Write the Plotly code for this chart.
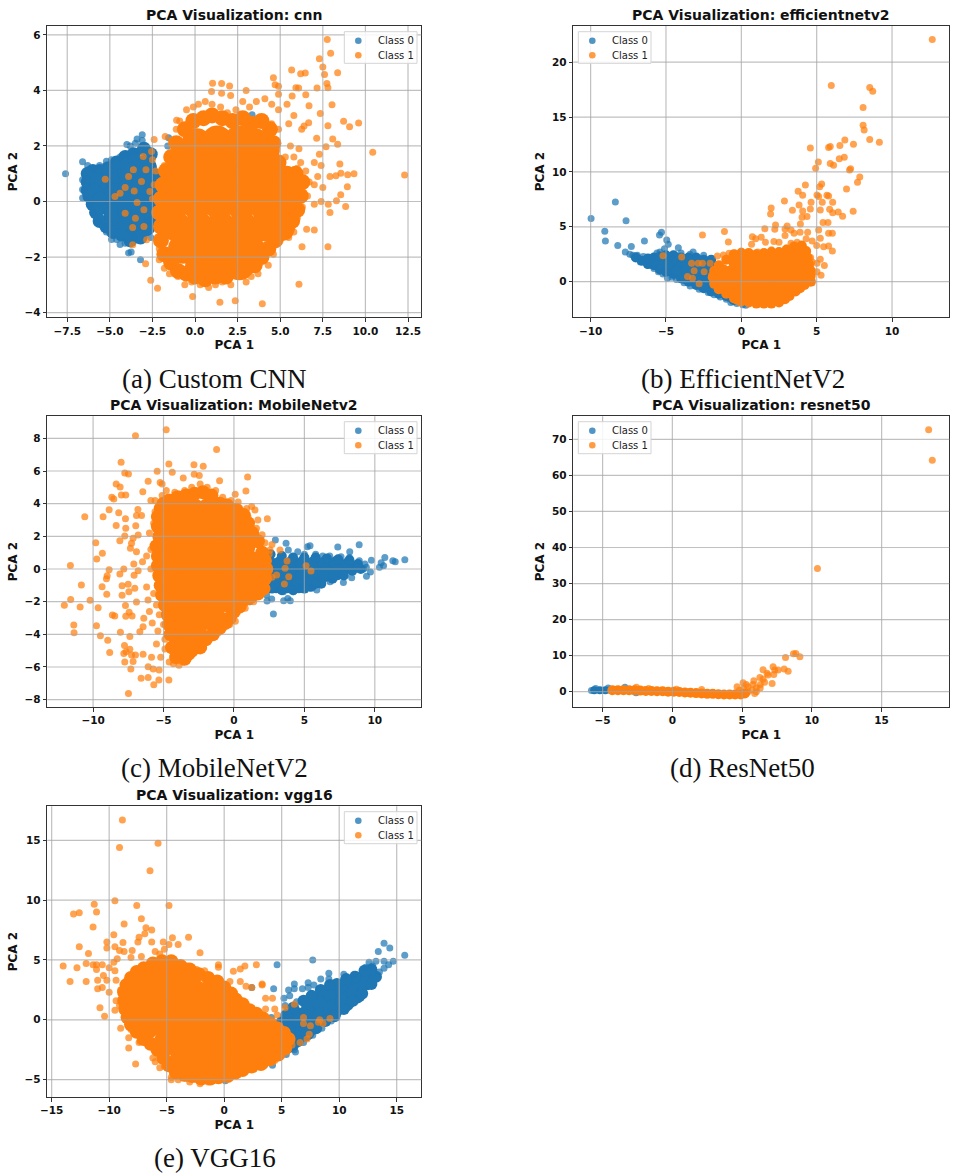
import plotly.graph_objects as go

# Values. *_CORE and *_MID lists hold estimated centres inside the saturated
# cloud, drawn opaque and larger; the other lists hold individually readable points.
TITLES = ["PCA Visualization: cnn", "PCA Visualization: efficientnetv2", "PCA Visualization: MobileNetv2",
          "PCA Visualization: resnet50", "PCA Visualization: vgg16"]
CAPTIONS = ["(a) Custom CNN", "(b) EfficientNetV2", "(c) MobileNetV2", "(d) ResNet50", "(e) VGG16"]
X_TICKS = [[-7.5, -5, -2.5, 0, 2.5, 5, 7.5, 10, 12.5], [-10, -5, 0, 5, 10], [-10, -5, 0, 5, 10],
           [-5, 0, 5, 10, 15], [-15, -10, -5, 0, 5, 10, 15]]
Y_TICKS = [[-4, -2, 0, 2, 4, 6], [0, 5, 10, 15, 20], [-8, -6, -4, -2, 0, 2, 4, 6, 8],
           [0, 10, 20, 30, 40, 50, 60, 70], [-5, 0, 5, 10, 15]]
X_RANGES = [(-8.67, 13.28), (-11.15, 13.8), (-13.25, 13.3), (-7.1, 19.85), (-15.38, 17.14)]
Y_RANGES = [(-4.17, 6.32), (-3.25, 23.3), (-8.45, 9.35), (-4.25, 76.4), (-6.45, 17.84)]
LEGEND_LABELS = ["Class 0", "Class 1"]

CNN_C0_CORE = [(-5.4,0.6),(-5.4,0.0),(-4.6,0.9),(-4.6,0.2),(-4.6,-0.5),(-3.8,1.1),(-3.8,0.4),(-3.8,-0.3),(-3.8,-0.9),
    (-3.0,1.2),(-3.0,0.5),(-3.0,-0.2),(-3.0,-0.8),(-2.2,0.7),(-2.2,0.0),(-2.2,-0.6)]
CNN_C0_MID = [(-6.3,1),(-6.3,0.7),(-6.3,0.4),(-6.2,0.2),(-6,-0.1),(-5.8,-0.4),(-5.6,-0.7),(-5.2,-0.9),(-4.8,-1.1),(-4.3,-1.2),(-3.8,-1.4),(-3.2,-1.3),
    (-6,1.1),(-5.6,1.1),(-5.1,1.2),(-4.6,1.4),(-4.1,1.6),(-3.6,1.7),(-3,1.9),(-2.6,1.7),(-5.8,0.8),(-5.9,0.4),(-5.6,0.1)]
CNN_C0 = [(-7.6,1),(-6.6,1.43),(-6.6,0.78),(-6.6,0.43),(-6.6,0.13),(-6.3,1.3),(-6,1.2),(-5.6,1.3),(-5.2,1.45),(-4.9,1.5),
    (-4.4,1.6),(-4,2.05),(-3.8,2),(-3.5,2.1),(-3.4,2.25),(-3.1,2.4),(-3.1,2.2),(-4,1.7),(-3.5,1.8),(-6.2,-0.1),(-6,-0.4),
    (-5.7,-0.7),(-5.3,-0.9),(-5.2,-1.1),(-4.9,-1.37),(-4.6,-1.37),(-4.4,-1.55),(-4.1,-1.5),(-3.9,-1.85),(-3.75,-1.82),
    (-3.2,-2.1),(-3.6,-1.3),(-2.6,-1.3),(-2.7,-0.7),(3.35,3.12),(-1.55,2.3),(-1.6,2)]
CNN_C1_CORE = [(0.1,2.1),(1.3,2.2),(2.6,2.2),(3.5,2.1),(-0.6,1.5),(0.7,1.5),(2.0,1.5),(3.3,1.5),(4.0,1.4),
    (-1.0,0.7),(0.3,0.7),(1.6,0.7),(2.9,0.7),(4.2,0.7),(5.4,0.6),(-1.2,-0.1),(0.1,-0.1),(1.4,-0.1),(2.7,-0.1),(4.0,-0.1),(5.3,-0.1),
    (-1.1,-0.9),(0.2,-0.9),(1.5,-0.9),(2.8,-0.9),(4.1,-0.9),(5.0,-0.9),(-0.7,-1.7),(0.6,-1.7),(1.9,-1.7),(3.2,-1.7),(0.3,-2.3),(1.5,-2.3),(2.6,-2.3)]
CNN_C1_MID = [(-0.6,2.6),(-0.1,2.9),(0.5,3),(1,3.1),(1.6,3),(2.2,2.9),(2.8,3),(3.3,2.8),(3.9,2.9),(4.4,2.6),(4.6,2.1),(-1.1,2.1),(-1.4,1.6),(-1.7,1.1),(-1.9,0.6),
    (-2,0.1),(-2.1,-0.4),(-2,-0.9),(-2,-1.4),(-1.8,-1.9),(-1.4,-2.2),(-1,-2.5),(-0.5,-2.6),(0,-2.7),(0.6,-2.8),(1.2,-2.7),(1.8,-2.7),(2.4,-2.5),(3,-2.4),(3.5,-2.3),
    (3.9,-2),(4.3,-1.7),(4.7,-1.4),(5.3,-1.1),(5.7,-0.7),(6,-0.3),(6.2,0.2),(6.3,0.7),(5.9,1),(5.4,1),(4.9,1.4),(4.5,1.8),(4.8,0.9),(5.8,0.2),(4.9,-1.1)]
CNN_C1 = [(7.76,5.83),(7.96,5.34),(7.3,5.14),(7.5,4.84),(7.6,4.57),(8.37,4.64),(5.67,4.74),(6.2,4.6),(6.47,4.63),(4.6,4.46),(4.7,4.2),(4.9,4.15),
    (5.92,4.1),(6.08,4.09),(7.16,4.09),(7.74,4.25),(7.8,4.1),(6.5,3.84),(4.9,3.86),(8.04,3.48),(6.69,3.45),(7.35,3.17),(8.72,2.89),(9.07,2.69),
    (9.6,2.83),(7.8,2.73),(6.67,2.84),(6.4,2.72),(6.26,2.6),(7.14,2.28),(8.08,2.25),(8.37,2.06),(7.69,1.97),(10.43,1.77),(12.3,0.95),(8.5,1.35),
    (9.33,1),(8.96,0.96),(8.56,1.02),(7.92,0.9),(8.27,0.93),(8.94,0.53),(8.55,0.24),(8.3,0.03),(8.84,-0.18),(7.82,-0.1),(7.92,-0.4),(7.8,-1.63),
    (7,-1.03),(6.55,-1),(6.28,-1.63),(6.1,-2.98),(3.95,-3.68),(2.36,-3.57),(1.46,-3.63),(-0.14,-3.42),(-2.2,-3.12),(-2.6,-2.84),(-2.9,-2.24),
    (1.03,4.26),(1.56,4.25),(2.03,4.16),(3,4),(0.97,3.96),(2.09,3.82),(1.56,3.9),(-1.08,2.93),(-1.75,2.34),(-2.4,2.23),
    (-5.27,0.8),(-4.1,0.5),(-4.7,0.18),(-4.1,-0.42),(-3.66,-0.94),(-3.66,-1.56),(-2.88,1.14),(-3.62,1.14),(-3.9,0.9),(-3.57,0.38),(-3.4,-0.04),
    (-3,-0.3),(-3,-0.9),(-3.5,-0.6),(-3.04,1.62),(-2.55,1.8),(-2.65,0.36),(-3.14,0.72),(-4.4,0.3),(-2.84,-1.38),(-2.5,1.5),(-2.3,1.1),(-2.4,0.6),(-2.5,0.1),
    (-2.3,-0.3),(-2.2,-0.8),(-2.2,-1.3),(-2.1,-1.7),(-2.1,-2.1),(-1.8,-2.4),(-1.5,-2.6),(-1.0,-2.7),(-0.6,-3.0),(-0.2,-2.9),(0.3,-3.0),(0.8,-3.1),(1.2,-3.0),
    (1.6,-2.9),(2.1,-3.0),(2.6,-2.7),(3.0,-2.9),(3.3,-2.7),(3.7,-2.6),(4.3,-2.3),(4.1,-2.0),(4.6,-1.9),(4.5,-1.6),(5.0,-1.4),(5.5,-1.3),(5.8,-1.1),(6.0,-0.6),(6.3,-0.2),
    (6.6,0.2),(6.7,0.7),(6.5,1.1),(6.0,1.2),(5.6,1.1),(5.0,1.2),(5.3,1.6),(5.8,1.6),(6.2,1.4),(4.8,1.9),(5.6,2.0),(6.1,1.9),(4.4,2.3),(4.9,2.6),(4.5,2.8),(5.5,2.8),(5.8,3.1),
    (4.9,3.3),(5.4,3.5),(5.7,3.8),(4.5,3.5),(4.1,3.7),(3.6,3.6),(3.2,3.4),(2.8,3.6),(2.4,3.3),(1.9,3.2),(1.5,3.4),(1.0,3.5),(0.6,3.6),(0.2,3.5),(-0.1,3.4),
    (-0.5,3.3),(-0.9,2.9),(-1.1,2.6),(-0.7,2.5),(-1.4,2.2),(-1.2,1.8),(-1.6,1.6),(-1.8,1.3),(-1.9,0.7),(-2.0,0.3),(-2.0,-0.2),(7.0,1.4),(7.3,1.7),(7.4,1.3),(7.2,0.9),(7.5,0.5),(7.0,0.6),(7.4,0.0),(7.0,-0.1)]

EFF_C0_CORE = [(-5.3,1.9),(-4.5,1.6),(-3.7,1.5),(-3.7,0.6),(-2.9,1.6),(-2.9,0.4),(-2.1,1.2),(-2.1,0.1),(-2.5,-0.1),(-1.5,-0.5),(-0.8,-1.0)]
EFF_C0_MID = [(-7,2.2),(-6.6,1.9),(-6.2,1.6),(-6.2,2.1),(-5.8,1.5),(-5.8,2.2),(-5.4,1.1),(-5.4,2.3),(-5,0.9),(-5,2.4),(-4.5,0.7),(-4.5,2.4),(-4,0.3),(-4,2.2),(-3.5,0),(-3.5,2.2),
    (-3,-0.3),(-3,2.2),(-2.5,-0.6),(-2.5,2),(-2,-0.9),(-2,2),(-1.5,-1.1),(-1,-1.3),(-0.5,-1.7),(-4.9,1.5),(-4.3,1),(-3.3,1),(-2.3,0.7)]
EFF_C0 = [(-9.97,5.75),(-9.06,4.6),(-9.02,3.7),(-8.36,7.25),(-8.2,3.3),(-7.65,5.55),(-7.7,2.7),(-7.4,2.5),(-7.3,3.2),(-7.2,2.4),(-7,2.1),(-6.9,2.4),(-6.7,1.8),
    (-6.5,2.3),(-6.43,3.7),(-6.2,1.5),(-6,2.2),(-5.8,1.2),(-5.6,2.6),(-5.5,0.9),(-5.43,4.25),(-5.3,4.5),(-5.2,0.7),(-5.1,3),(-4.95,3.8),(-4.85,3.4),(-4.9,0.3),(-4.6,0.4),
    (-4.18,3.1),(-4.3,0.2),(-4,2.6),(-3.8,-0.1),(-3.4,2.5),(-3.2,2.7),(-3.4,-0.4),(-3,2.2),(-2.8,-0.7),(-2.5,2.4),(-2.2,-1),(-1.8,-1.2),(-1.4,-1.4),(-1,-1.6),(-0.7,-1.9),
    (-0.3,-2),(0.1,-2.1),(0.3,-2.15),(-5.4,2.7),(-5.0,2.5),(-4.5,2.5)]
EFF_C1_CORE = [(-0.2,-1.3),(0.6,-1.3),(1.4,-1.3),(2.2,-1.3),(2.8,-1.1),(-1.2,-0.3),(-0.4,-0.3),(0.4,-0.3),(1.2,-0.3),(2.0,-0.3),(2.8,-0.3),(3.6,-0.2),
    (-1.3,0.8),(-0.5,0.8),(0.3,0.8),(1.1,0.8),(1.9,0.8),(2.7,0.8),(3.5,0.8),(4.0,0.8),(-0.3,1.9),(0.5,1.9),(1.3,1.9),(2.1,1.9),(2.9,1.9),(3.7,1.9),(3.5,2.5),(3.9,2.7)]
EFF_C1_MID = [(-1.5,1.5),(-1.0,2),(-0.5,2.5),(0,2.6),(0.5,2.6),(1,2.5),(1.5,2.6),(2,2.7),(2.5,2.7),(3,2.9),(3.5,3.2),(4,3.3),(4.3,2.8),(4.4,2.2),(4.5,1.6),(4.6,1),(4.6,0.5),(4.6,0),
    (4.2,-0.3),(3.9,-0.6),(3.6,-0.9),(3.2,-1.3),(2.9,-1.6),(2.5,-1.9),(2,-2),(1.5,-2),(1,-2),(0.5,-1.9),(0,-1.8),(-0.5,-1.5),(-1,-1.1),(-1.5,-0.7),(-1.8,-0.2),(-1.9,0.4),(-1.8,1),(3.7,2.6),(3.2,2.4)]
EFF_C1 = [(12.67,22.07),(5.97,17.87),(8.52,17.69),(8.72,17.36),(8.08,15.87),(8.08,14.26),(8.15,13.83),(8.52,12.95),(9.16,12.7),(6.87,12.92),(7.44,12.52),(6.54,12.4),
    (5.79,12.22),(5.9,12.31),(4.58,12.19),(6.83,11.34),(6.5,11.19),(5.11,10.91),(5.9,10.76),(6.12,10.61),(4.93,10.33),(7.25,10.3),(7.18,10.18),(7.86,9.54),(7.71,9.06),
    (6.98,8.45),(4.25,8.81),(5.33,8.9),(5.2,8.66),(3.77,8.24),(4.07,7.87),(5.02,7.9),(5.68,7.87),(5.79,7.81),(5.13,7.75),(2.86,7.36),(5.37,7.23),(6.06,7.23),(3.83,6.99),
    (4.63,7.23),(1.98,6.72),(1.94,6.17),(7.42,6.41),(5.86,6.6),(6.43,6.35),(6.72,5.96),(6.06,6.29),(5.24,6.53),(4.58,6.63),(3.39,6.5),(4.07,6.44),(4.03,5.87),(4.36,5.93),
    (2.27,5.17),(2.22,4.77),(1.56,4.83),(3.04,5.08),(3.92,5.26),(5.75,5.38),(5.42,5.38),(5.79,4.41),(6.04,4.41),(5.13,4.71),(0.73,4.1),(1.32,4.04),(0.95,3.92),(0.68,3.4),
    (1.6,3.59),(2.16,3.65),(-1.12,4.56),(-0.86,3.62),(-2.58,4.26),(6.04,2.8),(5.79,3.25),(5.24,3.95),(5.46,3.19),(5.24,2.04),(5.02,1.67),(5.51,1.46),(5.29,0.58),(5.02,0.91),(4.69,1.82),
    (-5.2,2.37),(-3.96,2.25),(-3.3,1.67),(-2.86,1.67),(-2.58,1.67),(-3.13,1),(-3.57,0.46),(-3.24,0.3),(-2.47,0.91),(-2.8,-0.2),(-1.98,0.6),(-2.07,1.67),(-1.59,2.34),(-1.19,2.43),(-0.81,2.58),
    (-0.4,2.6),(0,2.8),(0.4,2.7),(0.7,2.4),(1.1,2.7),(1.5,2.6),(2,2.9),(2.5,2.8),(3,3.1),(3.3,3.5),(3.7,3.6),(4.1,3.3),(4.3,3.9),(3.5,4.4),(3.9,4.5),(4.4,4.5),(4.7,3.7),(5.0,3.3),
    (4.4,2.7),(4.6,2.2),(4.6,1.3),(4.7,0.7),(4.7,0.1),(4.7,-0.1),(2.5,3.6),(2.9,4.2),(3.3,4.7),(2.9,4.8)]

MOB_C0_CORE = [(2.5,0.3),(3.3,0.3),(4.1,0.3),(4.9,0.3),(5.7,0.3),(6.5,0.3),(7.3,0.3),(8.1,0.2),(2.5,-0.4),(3.3,-0.4),(4.1,-0.4),(4.9,-0.4),(5.7,-0.4),(6.5,-0.3),(7.3,-0.2),
    (3.0,-1.0),(3.8,-1.0),(4.6,-1.0),(5.4,-0.9)]
MOB_C0_MID = [(2.6,0.9),(3.4,0.8),(4.2,0.7),(5,0.7),(5.8,0.7),(6.6,0.65),(7.4,0.6),(8.2,0.55),(8.8,0.3),(9,0),(8.4,-0.1),(7.8,-0.4),(7,-0.6),(6.2,-0.9),(5.8,-0.9),(5,-1.2),(4.2,-1.3),(3.4,-1.3),(2.7,-1.2),(8.8,0.1)]
MOB_C0 = [(12.13,0.57),(11.45,0.45),(11.28,0.51),(10.62,0.2),(10.33,0.1),(10.71,0.71),(10.45,0.39),(9.76,0.53),(9.69,-0.18),(9.41,-0.45),(8.89,1.49),(8.22,1.06),(7.37,1.35),
    (5.4,1.43),(5.21,1.37),(4.53,1.06),(3.7,1.57),(2.94,1.78),(3.86,1.16),(2.8,-2.76),(2.32,-1.59),(2.68,-1.84),(2.35,-1.96),(3.53,-1.94),(3.82,-1.8),(4,-1.94),(1.14,-2),
    (5.88,-1.29),(5.52,-1.18),(7.77,-0.82),(6.82,-0.78),(8.36,-0.53),(4.81,-1.08),(4.22,-1.39),(3.51,-1.39),(5,0.9),(5.8,0.9),(6.3,0.8),(6.8,0.8),(7.6,0.75),(8.2,0.7),(8.9,0.5),(9.3,0.3),
    (9.2,0),(9.4,0.1)]
MOB_C1_CORE = [(-4.3,3.6),(-3.0,3.6),(-1.7,3.6),(-0.5,3.4),(-4.5,2.5),(-3.2,2.5),(-1.9,2.5),(-0.6,2.5),(0.3,2.4),(-4.5,1.4),(-3.2,1.4),(-1.9,1.4),(-0.6,1.4),(0.6,1.4),
    (-4.4,0.3),(-3.1,0.3),(-1.8,0.3),(-0.5,0.3),(0.8,0.3),(1.2,0.3),(-4.4,-0.8),(-3.1,-0.8),(-1.8,-0.8),(-0.5,-0.8),(0.8,-0.8),(1.3,-0.7),(-3.9,-1.9),(-2.6,-1.9),(-1.3,-1.9),(-0.3,-1.9),
    (-3.6,-3.0),(-2.4,-3.0),(-1.5,-3.0),(-3.7,-4.0),(-2.8,-4.0),(-3.5,-4.9)]
MOB_C1_MID = [(-5.0,4),(-4.6,4.2),(-4,4.4),(-3.4,4.5),(-2.8,4.6),(-2.2,4.7),(-1.6,4.5),(-1,4),(-0.5,3.9),(0.2,3.6),(0.7,3.3),(1,2.8),(1.3,2.2),(1.7,1.7),(2,1),(2.2,0.5),(2.3,0),(2.2,-0.6),(2.1,-1.2),
    (1.7,-1.5),(1.2,-1.7),(0.7,-1.9),(0.4,-2.3),(0,-2.6),(-0.3,-3),(-0.6,-3.3),(-1,-3.6),(-1.5,-4),(-2,-4.3),(-2.4,-4.8),(-3,-5),(-3.5,-5.5),(-4.1,-5.4),(-4.4,-4.8),(-4.5,-4),(-4.6,-3.4),(-4.7,-2.8),
    (-4.9,-2.2),(-5.1,-1.6),(-5.2,-1),(-5.3,-0.4),(-5.4,0.2),(-5.4,0.8),(-5.5,1.4),(-5.3,2),(-5.4,2.6),(-5.4,3.2),(-5.2,3.7)]
MOB_C1 = [(-4.81,8.53),(-6.99,8.16),(-1.23,7.31),(-8.01,6.53),(-4.62,6.43),(-2.84,6.39),(-2.18,6.29),(-5.45,5.98),(-4.38,5.92),(-7.75,5.88),(-7.49,5.82),(0.97,5.63),(-3.6,5.57),(-2.82,5.8),
    (-2.46,5.73),(-6.09,5.37),(-1.02,5.41),(-8.36,5.2),(-8.08,5.02),(-5.24,5.29),(-6.47,4.73),(0.85,4.78),(-8.67,4.39),(-8.53,4.29),(-7.99,4.53),(-7.68,4.53),(0.09,4.57),(-10.59,3.2),(-9.29,3.2),
    (-8.86,3.63),(-8.18,3.45),(-7.7,3.08),(-8.36,2.67),(-7.68,2.49),(-6.82,3.65),(-6.92,3.27),(-6.56,3.27),(-6.97,2.65),(2.37,3.08),(1.26,3.82),(1.49,3.61),(-7.75,2.02),(-9.81,1.61),(-8.1,1.73),
    (-7.16,1.88),(-6.8,2.08),(-7.27,1.57),(-7.35,1.27),(-6.92,1.06),(-9.34,0.96),(-9.74,0.61),(-7.11,0.31),(-6.49,0.45),(-11.61,0.22),(-8.86,-0.04),(-7.82,0),(-6.8,-0.1),(-9,-0.41),(-9.05,-0.59),
    (-8.1,-0.31),(-7.09,-0.39),(-10.83,-0.98),(-9.36,-1.08),(-7.94,-1.02),(-7.51,-0.94),(-7.04,-1.18),(-9.03,-1.55),(-7.94,-1.61),(-7.46,-1.39),(-11.59,-1.86),(-10.21,-1.92),(-12.04,-2.22),(-10.92,-2.33),
    (-9.64,-2.37),(-7.7,-2.24),(-6.92,-2.02),(-8.63,-2.82),(-8.46,-2.88),(-7.68,-2.9),(-7.44,-2.65),(-7.23,-2.88),(-11.37,-3.43),(-9.76,-3.47),(-6.4,-3.02),(-6.45,-3.53),(-11.35,-3.9),(-9.48,-4.08),
    (-8.06,-3.88),(-7.39,-4.14),(-6.68,-3.84),(-8.96,-4.37),(-7.77,-4.69),(-7.39,-4.92),(-8.82,-5.12),(-7.66,-5.06),(-7.82,-5.18),(-7.27,-5.27),(-6.99,-5.27),(-6.45,-5.22),(-5.85,-5.41),(-7.75,-5.7),
    (-7.16,-5.67),(-7.32,-6.12),(-6.09,-5.98),(-5.73,-6.12),(-5.31,-6.18),(-6.59,-6.69),(-6.09,-6.65),(-5.33,-6.8),(-5.69,-7.08),(-4.62,-6.8),(-7.49,-7.63),(3.77,0.49),(5.12,0.2),(5.47,-0.12),(3.89,-0.47),
    (3.58,-0.92),(3.63,0.04),(3.27,1.16),(2.56,1.16),(3.03,-0.37),(2.7,-0.5),(2.4,-0.2),(2.3,0.6),(2.5,0.9),(2.7,1.5),(2.2,1.6),(2.0,2.1),(1.6,2.5),(1.7,3.0),(1.0,3.2),(0.9,3.7),(0.3,4.1),(-0.2,4.2),
    (-0.8,4.4),(-1.3,4.8),(-1.9,5.0),(-2.4,5.2),(-3,5.0),(-3.5,4.8),(-4.2,4.7),(-4.8,4.8),(-5.1,5.2),(-5.1,4.5),(-5.6,4.2),(-5.9,4.2),(-5.6,3.5),(-5.7,2.8),(-6,2.2),(-5.5,1.9),(-5.9,1.2),(-6.2,0.8),
    (-5.5,0.5),(-5.9,0.0),(-5.5,-0.5),(-6.2,-1.1),(-5.7,-1.5),(-6.1,-1.9),(-5.5,-2.2),(-6,-2.6),(-5.3,-2.8),(-5.8,-3.3),(-5,-3.4),(-5.4,-3.8),(-4.9,-4.3),(-5.5,-4.6),(-4.9,-4.9),(-5.2,-5.4),(-4.6,-5.7),
    (-4.3,-5.8),(-3.9,-5.9),(-3.6,-5.7),(-3.1,-5.1),(-2.6,-5.0),(-2.2,-4.8),(-2.1,-4.4),(-1.6,-4.2),(-1.1,-3.9),(-0.9,-3.5),(-0.3,-3.4),(0.1,-3.2),(-0.2,-2.8),(0.3,-2.4),(0.8,-2.4),(1.1,-2),(1.4,-2),(1.6,-1.7),(2,-1.5),(2,-1.0)]

RES_C0_CORE = [(-5.6,0.4),(-5.2,0.4),(-4.8,0.4),(-4.4,0.5),(-4.0,0.5),(-3.6,0.5),(-3.2,0.4),(-2.8,0.3)]
RES_C0_MID = []
RES_C0 = [(-5.8,0.3),(-5.5,0.9),(-4.6,1),(-3.4,1.2),(-2.6,-0.3)]
RES_C1_CORE = [(-4.3,0.4),(-3.9,0.4),(-3.5,0.4),(-3.1,0.4),(-2.7,0.4),(-2.3,0.3),(-1.9,0.2),(-1.5,0.2),(-1.1,0.1),(-0.7,0.1),(-0.3,0),(0.1,0),(0.5,-0.1),(0.9,-0.2),(1.3,-0.3),
    (1.7,-0.4),(2.1,-0.5),(2.5,-0.6),(2.9,-0.6),(3.3,-0.7),(3.7,-0.8),(4.1,-0.8),(4.5,-0.8),(4.9,-0.8),(5.2,-0.5)]
RES_C1_MID = []
RES_C1 = [(18.37,72.7),(18.63,64.2),(10.4,34.2),(8.11,9.5),(8.68,10.5),(8.85,10.6),(9.14,9.7),(6.5,6.1),(7.22,6.9),(7.34,6),(7.58,6),(8.01,6.3),(8.3,5.7),(6.79,5.1),(7.27,4.8),(6.86,4.6),
    (7.15,2.3),(6.27,3.9),(6.5,3.5),(5.84,3),(5.07,2.5),(4.64,1.4),(5.3,2),(5.79,2),(6.31,2),(6.61,2.6),(5.42,1.4),(6.02,1.1),(6.02,0),(5.42,0),(4.8,0.4),(6.3,1),(5.7,0.5),(5.1,0.8),(5.9,-0.5),(5.3,-0.4),
    (-2.58,1.2),(-1.7,0.9),(0.3,0.7),(2.1,0.6)]

VGG_C0_CORE = [(5.5,-1.5),(6,-0.5),(7,-1),(6.5,0.2),(7.5,0.8),(7.5,-0.5),(8.5,1.5),(8.5,0.3),(9.5,2),(9.5,0.9),(10.5,2.5),(10.5,1.5),(11.5,3),(11.5,2.2),(12.3,3.3)]
VGG_C0_MID = [(4.6,-2.5),(5.6,-2.3),(6.4,-1.8),(7.2,-1.2),(8,-0.7),(8.8,-0.1),(9.6,0.3),(10.4,0.9),(11.2,1.6),(12,2.2),(12.8,3),(13.2,3.6),(12.8,4.2),(12.2,4.1),(11.4,3.6),(10.6,3.4),(9.8,3),(9.2,2.9),
    (8.4,2.5),(7.6,2),(6.9,1.6),(6,1),(5.4,0.4),(5,-0.2),(4.6,-1),(6,-2.1)]
VGG_C0 = [(15.7,5.4),(13.9,6.4),(14.4,6),(13.4,5.7),(7.7,5),(4.6,4.6),(14.7,4.9),(13.9,4.9),(14.3,4.6),(13.2,4.9),(12.6,4.8),(13.9,4.3),(12.9,4.5),(13.5,4),(12.3,4.4),(11.3,3.8),(10.4,3.8),(9.1,3.9),(9.1,3.4),(8.4,3.4),
    (7.8,2.9),(7.3,3.1),(7.3,2.7),(6.8,2.6),(6.1,3),(6.1,2.6),(5.6,2.5),(5.7,2),(5.2,1.8),(4.3,2.6),(2.4,2.7),(4.1,0.2),(5.3,1.2),(6.3,1.5),(9.3,-0.1),(8.5,-0.7),(7.7,-1.3),(6.9,-1.9),(6.1,-2.5),(6.2,-2.7),(5.4,-2.9),(4.6,-3.2),(4.2,-3.8),(3.5,-3.8),(0.1,-5.1)]
VGG_C1_CORE = [(-6.5,3.7),(-4.9,3.7),(-3.3,3.7),(-7.4,2.3),(-5.8,2.3),(-4.2,2.3),(-2.6,2.3),(-1.0,2.3),(-7.3,0.9),(-5.7,0.9),(-4.1,0.9),(-2.5,0.9),(-0.9,0.9),(0.4,0.9),
    (-6.7,-0.5),(-5.1,-0.5),(-3.5,-0.5),(-1.9,-0.5),(-0.3,-0.5),(1.3,-0.5),(2.6,-0.5),(-5.0,-1.9),(-3.4,-1.9),(-1.8,-1.9),(-0.2,-1.9),(1.4,-1.9),(3.0,-1.9),(4.4,-1.9),
    (-3.6,-3.3),(-2.0,-3.3),(-0.4,-3.3),(1.2,-3.3),(2.7,-2.9),(-2.6,-4.1),(-1.2,-4.1),(0.0,-4.1)]
VGG_C1_MID = [(-7,4.3),(-6.2,4.7),(-5.4,4.9),(-4.6,4.9),(-3.8,4.5),(-3,4.2),(-2.2,3.8),(-1.4,3.5),(-0.6,3.2),(0,2.7),(0.6,2.2),(1,1.7),(1.6,1.3),(2.2,0.8),(2.8,0.5),(3.4,0.1),(4,-0.3),(4.6,-0.7),(5.2,-1.1),(5.6,-1.6),
    (5.3,-2.4),(4.7,-2.9),(4,-3.3),(3.2,-3.7),(2.4,-3.9),(1.6,-4.2),(1,-4.4),(0.3,-4.7),(-0.5,-4.8),(-1.2,-4.9),(-2,-4.9),(-2.8,-4.7),(-3.5,-4.6),(-4.2,-4.4),(-4.8,-3.8),(-5.3,-3.2),(-5.8,-2.5),(-6.4,-2),(-7,-1.6),
    (-7.6,-1),(-8.1,-0.4),(-8.4,0.2),(-8.6,0.9),(-8.7,1.6),(-8.7,2.3),(-8.5,2.9),(-8.1,3.5),(-7.6,4),(1.5,0.6),(-3.3,-4.2),(0.9,0.7),(2.2,-0.1),(3.7,-1),(4.5,-1.3)]
VGG_C1 = [(-8.85,16.7),(-9.1,14.4),(-5.75,14.75),(-6.45,12.45),(-9.5,9.95),(-11.3,9.65),(-7.6,9.55),(-4.8,9.55),(-11.1,9),(-12.6,8.95),(-13.1,8.85),(-8.7,8),(-7.2,8.45),(-11.4,7.75),(-6.8,7.7),(-6.3,7.5),(-9.6,7.1),
    (-6.9,7.2),(-3.1,6.9),(-7.4,6.9),(-10.2,6.5),(-8.8,6.45),(-7.5,6.5),(-6.3,6.5),(-5.3,6.5),(-4.5,6.85),(-4.8,6.3),(-4,6.3),(-9.5,6.1),(-9.1,5.8),(-12.6,6.1),(-10.2,6),(-8.7,5.7),(-8,5.8),(-6,5.7),
    (-5.2,5.9),(-2.1,5.6),(-11.8,5.55),(-9.3,5.1),(-9.6,4.8),(-8.1,5.2),(-7.2,5.3),(-5.6,5.5),(-14,4.5),(-12.8,4.35),(-12,4.7),(-11.4,4.6),(-11.1,4.6),(-10.6,4.6),(-11.1,4.2),(-10,4.35),(-9.5,4.1),(-13.4,3.2),
    (-12,3.2),(-11,3.3),(-10.5,3.7),(-10.2,3.3),(-9.4,3.3),(-11,2.6),(-10.6,2.7),(-10,2.3),(-9,2.5),(-10.8,1),(-9.4,1.6),(-10.4,0.3),(-9.5,0.8),(-9.1,1.2),(-9,-0.7),(-8.1,-0.8),(-8.3,-1.5),(-7.4,-1.9),(-7.3,-1.8),
    (-8.3,-2.35),(-7.7,-3.7),(-6.2,-3.2),(-6,-3.5),(-5.6,-4),(-5.2,-3.9),(-4.6,-4.8),(-4.6,-5),(-4,-5),(-3.3,-4.9),(-3,-5.2),(-2.4,-5),(-2.1,-5.35),(-1.4,-5.2),(-0.7,-5),(0.9,-4.6),(1.7,-4.3),(2.3,-4.1),(3.1,-3.9),
    (3.6,-3.7),(4.4,-3.4),(5,-3),(5.3,-2.5),(5.9,-2.1),(6.6,-1.9),(7.2,-1.6),(7.4,-1.2),(7.5,-0.5),(6.9,-0.3),(6.9,0.2),(8.2,-0.2),(8.3,0),(8.6,-0.3),(9.2,0.1),(6.1,1.3),(5.3,1),(4.4,0.9),(4.6,0.4),(3.6,0.9),(3.6,1.8),(4.2,1.8),
    (3.3,3),(3.3,2.9),(2.4,2.7),(1.9,2.8),(1.4,3.2),(0.5,3.2),(2.8,4.6),(1.8,4.5),(1.4,4.25),(0.8,4.05),(-0.5,4.6),(-0.5,4.4),(-1.7,4.1),(-2.4,4.2),(-2.6,3.8),(-1.2,3.7),(-0.7,3.4)]

# core list, mid list, readable list for each class, then the drawn sizes of core and mid
PANELS = [(CNN_C0_CORE, CNN_C0_MID, CNN_C0, CNN_C1_CORE, CNN_C1_MID, CNN_C1, 26, 14, 30, 16),
          (EFF_C0_CORE, EFF_C0_MID, EFF_C0, EFF_C1_CORE, EFF_C1_MID, EFF_C1, 18, 10, 18, 10),
          (MOB_C0_CORE, MOB_C0_MID, MOB_C0, MOB_C1_CORE, MOB_C1_MID, MOB_C1, 16, 10, 26, 14),
          (RES_C0_CORE, RES_C0_MID, RES_C0, RES_C1_CORE, RES_C1_MID, RES_C1, 8, 8, 10, 10),
          (VGG_C0_CORE, VGG_C0_MID, VGG_C0, VGG_C1_CORE, VGG_C1_MID, VGG_C1, 20, 12, 26, 14)]

W, H = 956, 1175
BOXES = [(47.3, 421.3, 26, 317.3), (573.3, 949.3, 26, 317.3), (47.3, 421.3, 416.3, 707),
         (573.3, 949.3, 416.3, 707), (47.3, 421.3, 806.3, 1097)]
TITLE_Y = [15, 15, 405, 405, 795]
CAP_Y = [379, 379, 768, 768, 1158]
CAP_X = [214.5, 742.7, 214.8, 742.5, 214.8]
LEG_BOX = [(344.3, 417, 31.7, 63.3), (578.3, 651, 31.7, 63.3), (344.3, 417, 421.7, 453.7), (578.3, 651, 421.7, 453.7), (344.3, 417, 811.7, 843.7)]
BLUE, ORANGE = "#1f77b4", "#ff7f0e"
SMALL = 7
GRID = "rgba(165,165,165,0.7)"


def fx(px):
    return px / W


def fy(px):
    return 1 - px / H


fig = go.Figure()
layout = {}
ann = []
shapes = []
for i, (c0core, c0mid, c0, c1core, c1mid, c1, s0c, s0m, s1c, s1m) in enumerate(PANELS):
    n = "" if i == 0 else str(i + 1)
    xa, ya = "x" + n, "y" + n
    tiers = [(c0core, BLUE, s0c, 1), (c0mid, BLUE, s0m, 1), (c0, BLUE, SMALL, 0.72),
             (c1core, ORANGE, s1c, 1), (c1mid, ORANGE, s1m, 1), (c1, ORANGE, SMALL, 0.72)]
    for pts, col, size, op in tiers:
        fig.add_trace(go.Scatter(x=[p[0] for p in pts], y=[p[1] for p in pts], mode="markers", showlegend=False,
                                 xaxis=xa, yaxis=ya, hoverinfo="skip",
                                 marker=dict(color=col, size=size, opacity=op, line=dict(width=0))))
    l, r, t, b = BOXES[i]
    common = dict(showgrid=False, zeroline=False, showline=True, linecolor="#333333", linewidth=1.2, automargin=False,
                  mirror=True, ticks="outside", ticklen=3.5, tickcolor="#333333", tickwidth=1,
                  tickfont=dict(family="DejaVu Sans", size=10.5, weight="bold", color="#111111"))
    title_font = dict(family="DejaVu Sans", size=12, weight="bold", color="#111111")
    layout["xaxis" + n] = dict(domain=[fx(l), fx(r)], range=list(X_RANGES[i]), anchor=ya, tickvals=X_TICKS[i],
                               tickformat=".1f" if i == 0 else "d", title=dict(text="PCA 1", standoff=5, font=title_font), **common)
    layout["yaxis" + n] = dict(domain=[fy(b), fy(t)], range=list(Y_RANGES[i]), anchor=xa, tickvals=Y_TICKS[i],
                               title=dict(text="PCA 2", standoff=4, font=title_font), **common)
    # gridlines sit over the points in the reference, so they are shapes above the traces
    for v in X_TICKS[i]:
        shapes.append(dict(type="line", xref=xa, yref=ya + " domain", x0=v, x1=v, y0=0, y1=1, layer="above", line=dict(color=GRID, width=1.2)))
    for v in Y_TICKS[i]:
        shapes.append(dict(type="line", xref=xa + " domain", yref=ya, x0=0, x1=1, y0=v, y1=v, layer="above", line=dict(color=GRID, width=1.2)))
    ann.append(dict(text="<b>%s</b>" % TITLES[i], x=fx((l + r) / 2), y=fy(TITLE_Y[i]), xref="paper", yref="paper", showarrow=False,
                    xanchor="center", yanchor="middle", font=dict(family="DejaVu Sans", size=14, color="#111111")))
    ann.append(dict(text=CAPTIONS[i], x=fx(CAP_X[i]), y=fy(CAP_Y[i]), xref="paper", yref="paper", showarrow=False,
                    xanchor="center", yanchor="middle", font=dict(family="Liberation Serif", size=27, color="#111111")))
    # compact legend box: plotly's own legend forces taller rows than the reference has
    bl, br, bt, bb = LEG_BOX[i]
    shapes.append(dict(type="rect", xref="paper", yref="paper", x0=fx(bl), x1=fx(br), y0=fy(bb), y1=fy(bt), layer="above",
                       fillcolor="rgba(255,255,255,0.85)", line=dict(color="#d4d4d4", width=1)))
    for k, (label, col) in enumerate(zip(LEGEND_LABELS, (BLUE, ORANGE))):
        cy = bt + 9 + k * 14.5
        cx = bl + 14
        shapes.append(dict(type="circle", xref="paper", yref="paper", x0=fx(cx - 3.3), x1=fx(cx + 3.3), y0=fy(cy + 3.3), y1=fy(cy - 3.3), layer="above",
                           fillcolor=col, opacity=0.78, line=dict(width=0)))
        ann.append(dict(text=label, x=fx(bl + 32), y=fy(cy), xref="paper", yref="paper", showarrow=False, xanchor="left", yanchor="middle",
                        font=dict(family="DejaVu Sans", size=10, color="#222222")))

fig.update_layout(width=W, height=H, margin=dict(l=0, r=0, t=0, b=0), paper_bgcolor="white", plot_bgcolor="white",
                  annotations=ann, shapes=shapes, showlegend=False, **layout)
fig.write_html("out.html", post_script="document.body.style.margin='0';", config={"displayModeBar": False})
